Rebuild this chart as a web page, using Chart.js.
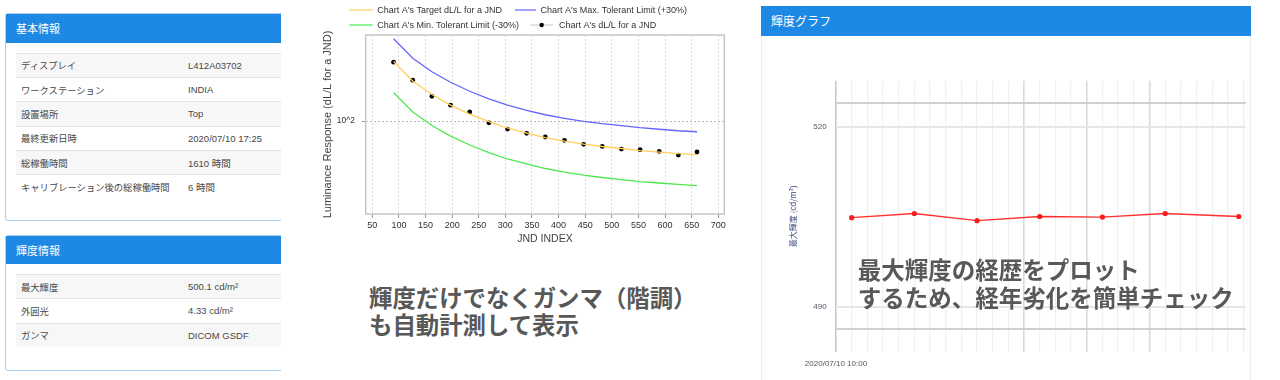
<!DOCTYPE html>
<html lang="ja">
<head>
<meta charset="utf-8">
<script src="https://cdn.jsdelivr.net/npm/chart.js@4.4.0/dist/chart.umd.min.js"></script>
<style>
  html, body { margin:0; padding:0; background:#fff; }
  body { width:1280px; height:380px; position:relative; overflow:hidden;
         font-family:"Liberation Sans","Noto Sans CJK JP",Arial,sans-serif; }
  .clip { position:absolute; left:0; top:0; width:281px; height:380px; overflow:hidden; }
  .card { position:absolute; left:5px; width:300px; border:1px solid #a9cff0; border-radius:3px;
          background:#fff; box-sizing:border-box; }
  .card .hd { background:#1e88e5; color:#fff; font-family:"Noto Sans CJK JP",sans-serif;
              font-size:11px; padding-left:10px; box-sizing:border-box; }
  table { position:absolute; left:10px; border-collapse:collapse; width:320px; }
  td { height:24.3px; padding:0; border-top:1px solid #e4e4e4; box-sizing:border-box;
       font-size:9.5px; color:#484848; }
  td.l { padding-left:5px; width:172px; font-family:"Noto Sans CJK JP",sans-serif; font-size:9.3px; color:#484848; }
  td.v { font-family:"Liberation Sans","Noto Sans CJK JP",sans-serif; }
  tr.s td { background:#f7f7f7; }
  .rcard { position:absolute; left:761px; top:6px; width:490px; height:400px;
           border:1px solid #ececec; box-sizing:border-box; background:#fff; }
  .rcard .hd { height:30px; background:#1e88e5; color:#fff; font-family:"Noto Sans CJK JP",sans-serif;
               font-size:12px; line-height:30px; padding-left:10px; margin:-1px -1px 0 -1px; }
  canvas { position:absolute; }
  .note { position:absolute; font-family:"Noto Sans CJK JP",sans-serif; font-weight:bold; color:#585858;
          white-space:nowrap; z-index:5; }
</style>
</head>
<body>
<div class="clip">
  <div class="card" style="top:13px;height:208px;">
    <div class="hd" style="height:28.7px;line-height:28.7px;">基本情報</div>
    <table style="top:38.7px;">
      <tr class="s"><td class="l">ディスプレイ</td><td class="v">L412A03702</td></tr>
      <tr><td class="l">ワークステーション</td><td class="v">INDIA</td></tr>
      <tr class="s"><td class="l">設置場所</td><td class="v">Top</td></tr>
      <tr><td class="l">最終更新日時</td><td class="v">2020/07/10 17:25</td></tr>
      <tr class="s"><td class="l">総稼働時間</td><td class="v">1610 時間</td></tr>
      <tr><td class="l">キャリブレーション後の総稼働時間</td><td class="v">6 時間</td></tr>
    </table>
  </div>
  <div class="card" style="top:235px;height:136px;">
    <div class="hd" style="height:28.3px;line-height:28.3px;">輝度情報</div>
    <table style="top:38px;">
      <tr class="s"><td class="l">最大輝度</td><td class="v">500.1 cd/m²</td></tr>
      <tr><td class="l">外囲光</td><td class="v">4.33 cd/m²</td></tr>
      <tr class="s"><td class="l">ガンマ</td><td class="v">DICOM GSDF</td></tr>
    </table>
  </div>
</div>

<canvas id="jnd" width="440" height="246" style="left:300px;top:0px;"></canvas>

<div class="rcard"><div class="hd">輝度グラフ</div></div>
<canvas id="lum" width="490" height="344" style="left:761px;top:36px;z-index:2;"></canvas>

<div class="note" style="left:369px;top:284px;font-size:23.4px;line-height:26.5px;">輝度だけでなくガンマ（階調）<br>も自動計測して表示</div>
<div class="note" style="left:857.7px;top:255px;font-size:23.5px;line-height:28.3px;">最大輝度の経歴をプロット<br>するため、経年劣化を簡単チェック</div>

<script>
// ---------- JND chart data ----------
const jndIndex    = [90,126,162,197,233,269,304,340,375,411,447,482,518,553,589,625,660];
const targetDLL   = [198.4,158.5,135.7,120.2,108.4,99.4,92.3,87.1,82.7,79.4,76.7,74.6,72.9,71.2,70.0,68.8,68.0];
const maxLimitDLL = [257.9,206.1,176.4,156.3,140.9,129.2,120.0,113.2,107.5,103.2,99.7,97.0,94.8,92.6,91.0,89.4,88.4];
const minLimitDLL = [138.9,111.0,95.0,84.1,75.9,69.6,64.6,61.0,57.9,55.6,53.7,52.2,51.0,49.8,49.0,48.2,47.6];
const measuredDLL = [197,160,133,120,111,98,91.2,86.8,83.2,80.1,76.5,74.7,72.4,71.9,70.6,67.6,70.0];
const jndTicks    = [50,100,150,200,250,300,350,400,450,500,550,600,650,700];
const jndYTicks   = [100];
const jndYTickLabels = ['10^2'];
const jndLabels = ["Chart A's Target dL/L for a JND","Chart A's Max. Tolerant Limit (+30%)",
                   "Chart A's Min. Tolerant Limit (-30%)","Chart A's dL/L for a JND"];

// ---------- Luminance history data ----------
const lumHours     = [1,5,9,13,17,21,25.7];
const lumValues    = [504.9,505.6,504.4,505.1,505.0,505.6,505.1];
const lumGridHours = [0,1,2,3,4,5,6,7,8,9,10,11,12,13,14,15,16,17,18,19,20,21,22,23,24,25,26];
const lumMajorHours = [12,16,20];
const lumXTickLabel = '2020/07/10 10:00';
const lumYTicks    = [486.3,490,520,524];
const lumYLabeled  = [490,520];
const lumYTitle    = '最大輝度 (cd/m²)';

const pts = (xs, ys) => xs.map((x,i)=>({x:x, y:ys[i]}));

// custom legend for JND chart (positions only)
const legendPos = [
  {x:49.3, y:10, w:23.4}, {x:215, y:10, w:21}, {x:49.3, y:25, w:23.4}, {x:230, y:25, w:23.3, tx:259}
];
const jndLegend = {
  id:'jndLegend',
  afterDraw(chart){
    const ctx = chart.ctx;
    ctx.save();
    chart.data.datasets.forEach((ds,i)=>{
      const p = legendPos[i];
      ctx.beginPath();
      ctx.strokeStyle = ds.legendLine || ds.borderColor;
      ctx.lineWidth = 1.2;
      ctx.moveTo(p.x, p.y); ctx.lineTo(p.x+p.w, p.y); ctx.stroke();
      if (ds.legendLine) {
        ctx.beginPath(); ctx.fillStyle = ds.pointBackgroundColor;
        ctx.arc(p.x+p.w/2, p.y, 2.2, 0, Math.PI*2); ctx.fill();
      }
      ctx.fillStyle = '#333';
      ctx.font = '9px "Liberation Sans", Arial, sans-serif';
      ctx.textBaseline = 'middle';
      ctx.fillText(ds.label, p.tx || (p.x+p.w+4.6), p.y+0.5);
    });
    const a = chart.chartArea;
    ctx.strokeStyle = '#c6c6c6'; ctx.lineWidth = 1.5;
    ctx.strokeRect(a.left, a.top, a.right-a.left, a.bottom-a.top);
    ctx.restore();
  }
};

new Chart(document.getElementById('jnd'), {
  type:'line',
  data:{ datasets:[
    {label:jndLabels[0], data:pts(jndIndex,targetDLL), borderColor:'#ffcf5c', borderWidth:1.3, pointRadius:0, tension:0},
    {label:jndLabels[1], data:pts(jndIndex,maxLimitDLL), borderColor:'#6464ff', borderWidth:1.3, pointRadius:0, tension:0},
    {label:jndLabels[2], data:pts(jndIndex,minLimitDLL), borderColor:'#4ee84e', borderWidth:1.3, pointRadius:0, tension:0},
    {label:jndLabels[3], data:pts(jndIndex,measuredDLL), showLine:false, borderColor:'#000', legendLine:'#d0d0d0',
     pointRadius:2.4, pointBackgroundColor:'#000', pointBorderWidth:0}
  ]},
  options:{
    responsive:false, animation:false, devicePixelRatio:1,
    layout:{padding:{top:35, right:15.7, left:0, bottom:0}},
    plugins:{legend:{display:false}, tooltip:{enabled:false}},
    scales:{
      x:{ type:'linear', min:37.6, max:711.3,
          afterBuildTicks(s){ s.ticks = jndTicks.map(v=>({value:v})); },
          afterFit(s){ s.height = 32; },
          ticks:{ font:{size:9, family:'"Liberation Sans", Arial'}, color:'#333', padding:2, maxRotation:0, autoSkip:false },
          grid:{ color:'#dcdcdc', lineWidth:1, tickLength:4, tickColor:'#999', tickBorderDash:[] },
          border:{ display:false, dash:[2,2] },
          title:{ display:true, text:'JND INDEX', font:{size:10.5, family:'"Liberation Sans", Arial'}, color:'#444', padding:{top:0,bottom:0.7} } },
      y:{ type:'logarithmic', min:34.3, max:269.2,
          afterBuildTicks(s){ s.ticks = jndYTicks.map(v=>({value:v})); },
          afterFit(s){ s.width = 65.7; },
          ticks:{ callback:(v)=>{ const i = jndYTicks.indexOf(v); return i>=0 ? jndYTickLabels[i] : ''; },
                  font:{size:8.5, family:'"Liberation Sans", Arial'}, color:'#333', padding:6.7 },
          grid:{ color:'#b8b8b8', lineWidth:1, tickLength:4, tickColor:'#999', tickBorderDash:[] },
          border:{ display:false, dash:[2,2] },
          title:{ display:true, text:'Luminance Response (dL/L for a JND)', font:{size:11, family:'"Liberation Sans", Arial'}, color:'#444', padding:{top:21.4,bottom:0} } }
    }
  },
  plugins:[jndLegend]
});

new Chart(document.getElementById('lum'), {
  type:'line',
  data:{ datasets:[
    {label:'最大輝度', data:pts(lumHours,lumValues), borderColor:'#ff3030', borderWidth:1.3,
     pointRadius:2.6, pointBackgroundColor:'#ff1a1a', pointBorderWidth:0, tension:0}
  ]},
  options:{
    responsive:false, animation:false, devicePixelRatio:1,
    layout:{padding:{top:44.7, right:0.5, left:0, bottom:0}},
    plugins:{legend:{display:false}, tooltip:{enabled:false}},
    scales:{
      x:{ type:'linear', min:0, max:26.15,
          afterBuildTicks(s){ s.ticks = lumGridHours.map(v=>({value:v})); },
          afterFit(s){ s.height = 28.3; },
          ticks:{ callback:(v)=> v===0 ? lumXTickLabel : '', font:{size:8, family:'"Liberation Sans", Arial'}, color:'#555',
                  padding:7.5, maxRotation:0, autoSkip:false },
          grid:{ drawTicks:false,
                 color:(c)=>{ const v=c.tick && c.tick.value; return v===0 ? '#c8c8c8' : (lumMajorHours.includes(v) ? '#dadada' : '#f0f0f0'); },
                 lineWidth:(c)=>{ const v=c.tick && c.tick.value; return (v===0 || lumMajorHours.includes(v)) ? 1.6 : 1.2; } },
          border:{ display:false } },
      y:{ type:'linear', min:482.6, max:527.7,
          afterBuildTicks(s){ s.ticks = lumYTicks.map(v=>({value:v})); },
          afterFit(s){ s.width = 75; },
          ticks:{ callback:(v)=> lumYLabeled.includes(v) ? String(v) : '', font:{size:8, family:'"Liberation Sans", Arial'}, color:'#556', padding:9.3 },
          grid:{ drawTicks:false,
                 color:(c)=>{ const v=c.tick && c.tick.value; return lumYLabeled.includes(v) ? '#e6e6e6' : '#cfcfcf'; },
                 lineWidth:2 },
          border:{ display:false },
          title:{ display:true, text:lumYTitle, font:{size:8, family:'"Noto Sans CJK JP", sans-serif'}, color:'#3b4a80', padding:{top:27.2,bottom:0} } }
    }
  }
});
</script>
</body>
</html>
